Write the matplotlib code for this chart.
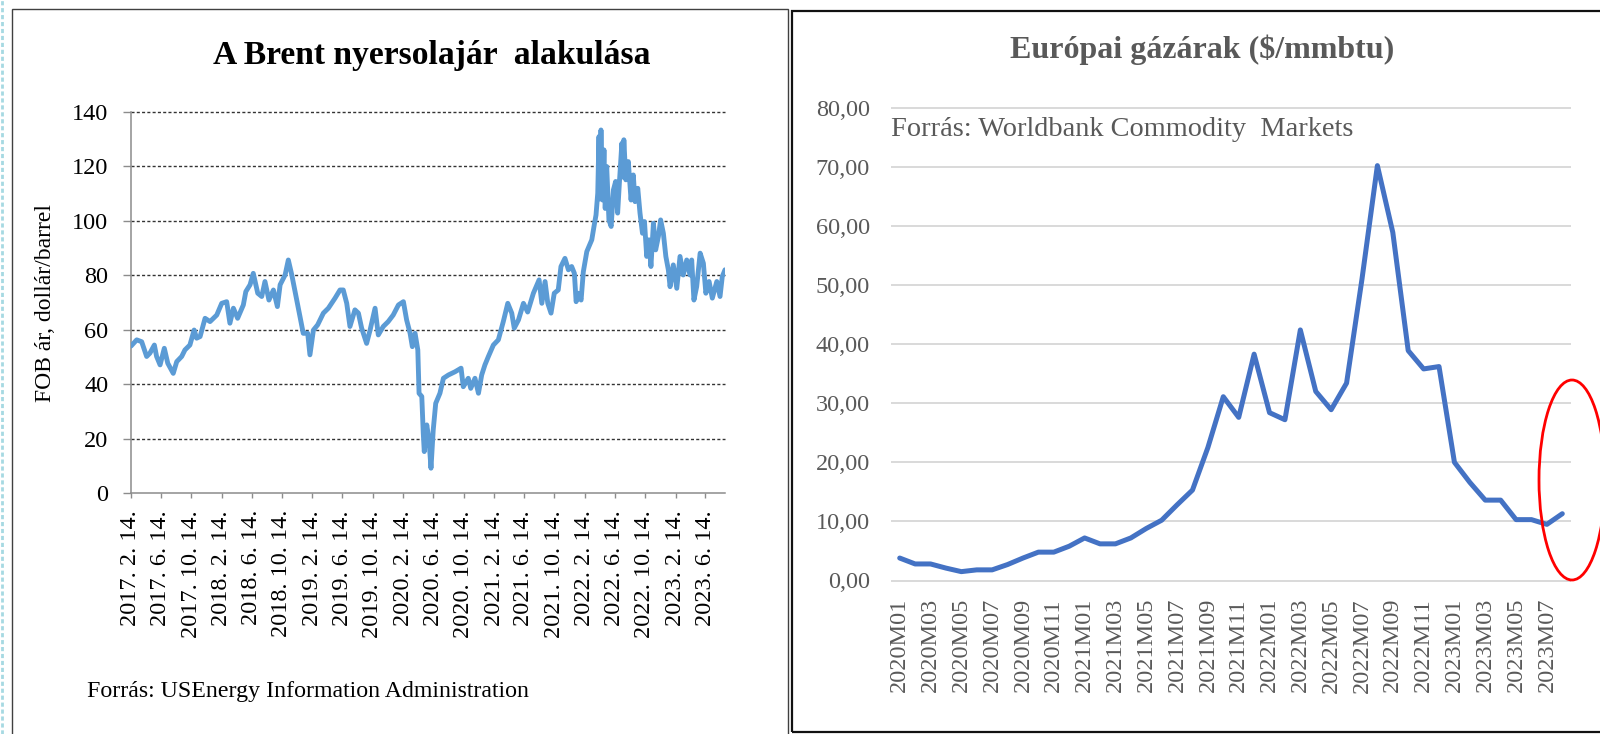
import matplotlib
matplotlib.use('Agg')
import matplotlib.pyplot as plt
from matplotlib.patches import Rectangle, Ellipse
from matplotlib.lines import Line2D
import pandas as pd

plt.rcParams['font.family'] = ['Liberation Serif', 'DejaVu Serif']

# ---------------- data: Brent (left) ----------------
brent_dates = [
    "2017-02-14", "2017-03-09", "2017-03-29", "2017-04-18", "2017-05-01", "2017-05-19", "2017-05-28",
    "2017-06-11", "2017-06-28", "2017-07-12", "2017-08-03", "2017-08-17", "2017-09-06", "2017-09-19",
    "2017-10-09", "2017-10-26", "2017-11-05", "2017-11-19", "2017-12-09", "2017-12-29", "2018-01-25",
    "2018-02-14", "2018-03-06", "2018-03-19", "2018-04-02", "2018-04-19", "2018-05-12", "2018-05-22",
    "2018-06-08", "2018-06-21", "2018-07-09", "2018-07-25", "2018-08-07", "2018-08-23", "2018-09-10",
    "2018-09-26", "2018-10-07", "2018-10-27", "2018-11-09", "2018-11-23", "2018-12-13", "2018-12-26",
    "2019-01-08", "2019-01-26", "2019-02-04", "2019-02-18", "2019-03-07", "2019-03-30", "2019-04-19",
    "2019-05-16", "2019-06-05", "2019-06-18", "2019-07-02", "2019-07-15", "2019-08-04", "2019-08-18",
    "2019-08-31", "2019-09-20", "2019-10-04", "2019-10-24", "2019-11-06", "2019-11-26", "2019-12-16",
    "2020-01-05", "2020-01-26", "2020-02-15", "2020-02-28", "2020-03-13", "2020-03-22", "2020-04-02",
    "2020-04-13", "2020-04-18", "2020-04-29", "2020-05-05", "2020-05-09", "2020-05-19", "2020-05-28",
    "2020-06-05", "2020-06-14", "2020-06-24", "2020-07-11", "2020-07-25", "2020-08-14", "2020-09-10",
    "2020-10-04", "2020-10-13", "2020-11-02", "2020-11-12", "2020-11-29", "2020-12-13", "2020-12-26",
    "2021-01-08", "2021-01-22", "2021-02-11", "2021-03-03", "2021-03-23", "2021-04-10", "2021-04-26",
    "2021-05-06", "2021-05-23", "2021-06-12", "2021-06-29", "2021-07-22", "2021-08-14", "2021-08-25",
    "2021-09-07", "2021-09-18", "2021-10-01", "2021-10-14", "2021-10-30", "2021-11-10", "2021-11-26",
    "2021-12-10", "2021-12-23", "2022-01-03", "2022-01-10", "2022-01-19", "2022-01-30", "2022-02-08",
    "2022-02-22", "2022-03-14", "2022-03-24", "2022-03-31", "2022-04-07", "2022-04-12", "2022-04-15",
    "2022-04-20", "2022-04-26", "2022-05-02", "2022-05-07", "2022-05-13", "2022-05-22", "2022-05-31",
    "2022-06-09", "2022-06-18", "2022-06-26", "2022-07-03", "2022-07-13", "2022-07-17", "2022-07-21",
    "2022-07-29", "2022-08-08", "2022-08-19", "2022-08-28", "2022-09-04", "2022-09-15", "2022-09-24",
    "2022-10-04", "2022-10-12", "2022-10-21", "2022-10-30", "2022-11-07", "2022-11-17", "2022-11-26",
    "2022-12-07", "2022-12-16", "2022-12-27", "2023-01-06", "2023-01-16", "2023-01-23", "2023-02-05",
    "2023-02-19", "2023-03-04", "2023-03-17", "2023-03-31", "2023-04-13", "2023-04-20", "2023-04-29",
    "2023-05-10", "2023-05-24", "2023-06-06", "2023-06-16", "2023-06-29", "2023-07-12", "2023-07-30",
    "2023-08-12", "2023-08-21", "2023-09-01",
]
brent_prices = [
    54.0, 56.3, 55.6, 50.2, 51.4, 54.4, 50.2,
    47.1, 53.2, 47.7, 44.0, 48.3, 50.2, 52.6,
    54.4, 59.9, 56.9, 57.5, 64.2, 63.0, 65.4,
    69.7, 70.3, 62.4, 67.9, 64.2, 69.1, 74.0,
    76.5, 80.7, 73.4, 72.2, 77.7, 70.9, 74.6,
    68.5, 76.5, 80.1, 85.6, 80.1, 70.9, 64.8,
    58.7, 58.7, 50.8, 59.9, 61.8, 66.1, 67.9,
    71.6, 74.6, 74.6, 69.7, 61.2, 67.3, 66.1,
    60.6, 55.0, 59.9, 67.9, 58.1, 61.2, 63.0,
    65.4, 69.1, 70.3, 63.6, 58.7, 53.8, 58.7,
    52.6, 36.7, 35.5, 22.0, 15.3, 25.1, 19.6,
    9.2, 23.2, 33.0, 36.7, 42.2, 43.4, 44.6,
    45.9, 39.1, 42.2, 38.5, 42.2, 36.7, 43.4,
    47.1, 50.2, 54.4, 56.3, 63.0, 69.7, 66.1,
    60.6, 63.6, 69.7, 66.5, 73.4, 78.3, 69.7,
    77.7, 69.7, 66.1, 73.4, 74.6, 83.2, 86.2,
    82.0, 83.2, 80.7, 70.3, 73.4, 70.9, 81.3,
    88.7, 93.0, 98.5, 102.1, 110.1, 130.9, 108.0,
    133.3, 107.6, 126.0, 104.5, 119.9, 100.3, 97.9,
    111.3, 114.4, 102.8, 113.8, 128.4, 116.0, 129.7,
    115.0, 121.7, 107.6, 116.8, 107.0, 111.9, 102.8,
    95.4, 99.7, 86.9, 93.0, 83.2, 99.1, 89.3,
    94.2, 100.3, 95.4, 86.9, 82.0, 75.8, 83.8,
    75.2, 86.9, 80.1, 85.6, 80.1, 85.6, 70.9,
    75.8, 88.1, 84.4, 73.4, 77.7, 71.6, 77.7,
    72.2, 79.5, 82.0,
]
brent_tick_dates = [
    "2017-02-14", "2017-06-14", "2017-10-14", "2018-02-14", "2018-06-14", "2018-10-14",
    "2019-02-14", "2019-06-14", "2019-10-14", "2020-02-14", "2020-06-14", "2020-10-14",
    "2021-02-14", "2021-06-14", "2021-10-14", "2022-02-14", "2022-06-14", "2022-10-14",
    "2023-02-14", "2023-06-14",
]
brent_tick_labels = [
    "2017. 2. 14.", "2017. 6. 14.", "2017. 10. 14.", "2018. 2. 14.", "2018. 6. 14.", "2018. 10. 14.",
    "2019. 2. 14.", "2019. 6. 14.", "2019. 10. 14.", "2020. 2. 14.", "2020. 6. 14.", "2020. 10. 14.",
    "2021. 2. 14.", "2021. 6. 14.", "2021. 10. 14.", "2022. 2. 14.", "2022. 6. 14.", "2022. 10. 14.",
    "2023. 2. 14.", "2023. 6. 14.",
]
brent_yticks = [0, 20, 40, 60, 80, 100, 120, 140]

# ---------------- data: European gas (right) ----------------
gas_months = [
    "2020M01", "2020M02", "2020M03", "2020M04", "2020M05", "2020M06", "2020M07", "2020M08",
    "2020M09", "2020M10", "2020M11", "2020M12",
    "2021M01", "2021M02", "2021M03", "2021M04", "2021M05", "2021M06", "2021M07", "2021M08",
    "2021M09", "2021M10", "2021M11", "2021M12",
    "2022M01", "2022M02", "2022M03", "2022M04", "2022M05", "2022M06", "2022M07", "2022M08",
    "2022M09", "2022M10", "2022M11", "2022M12",
    "2023M01", "2023M02", "2023M03", "2023M04", "2023M05", "2023M06", "2023M07", "2023M08",
]
gas_prices = [
    3.8, 2.8, 2.8, 2.1, 1.5, 1.8, 1.8, 2.7, 3.8, 4.8, 4.8, 5.8,
    7.2, 6.2, 6.2, 7.2, 8.8, 10.2, 12.8, 15.3, 22.5, 31.1, 27.6, 38.3,
    28.4, 27.2, 42.4, 32.0, 28.9, 33.4, 51.0, 70.2, 58.9, 38.9, 35.8, 36.2,
    20.0, 16.6, 13.6, 13.6, 10.3, 10.3, 9.5, 11.3,
]
gas_yticks = [0, 10, 20, 30, 40, 50, 60, 70, 80]

W, H = 1600, 734
fig = plt.figure(figsize=(16, 7.34), dpi=100)
fig.patch.set_facecolor('white')


def fx(px):
    return px / W


def fy(py):
    return 1 - py / H


# ---------------- left chart ----------------
L0, L1, T0, B0 = 131, 725, 111.7, 493.3
axL = fig.add_axes([fx(L0), fy(B0), (L1 - L0) / W, (B0 - T0) / H])
d = pd.to_datetime(brent_dates)
axL.plot(d, brent_prices, color='#5B9BD5', lw=3.5, solid_joinstyle='round',
         solid_capstyle='round', zorder=3)
axL.set_ylim(0, 140)
axL.set_xlim(d[0], d[-1])
axL.set_yticks(brent_yticks)
axL.set_yticklabels([str(v) for v in brent_yticks])
for v in brent_yticks[1:]:
    axL.axhline(v, color='#333333', lw=1.0, linestyle=(0, (2.2, 1.6)), clip_on=False, zorder=1)
axL.set_xticks(pd.to_datetime(brent_tick_dates))
axL.set_xticklabels(brent_tick_labels, rotation=90, ha='center', va='top')
for s in ['top', 'right']:
    axL.spines[s].set_visible(False)
for s in ['left', 'bottom']:
    axL.spines[s].set_color('#8c8c8c')
    axL.spines[s].set_linewidth(1.1)
axL.tick_params(axis='y', length=6, width=1.0, color='#8c8c8c', pad=10.4, labelsize=17.5,
                labelcolor='black')
axL.tick_params(axis='x', length=3.6, width=1.0, color='#8c8c8c', pad=8.5, labelsize=17.5,
                labelcolor='black')

fig.text(fx(432), fy(64), "A Brent nyersolajár  alakulása", ha='center', va='baseline',
         fontsize=24.2, fontweight='bold', color='black')
fig.text(fx(46), fy(303), "FOB ár, dollár/barrel", rotation=90, ha='center', va='center',
         fontsize=17, color='black')
fig.text(fx(86.7), fy(697), "Forrás: USEnergy Information Administration", ha='left',
         va='baseline', fontsize=17.2, color='black')

# ---------------- right chart ----------------
R0, R1, RT, RB = 892, 1570, 107.7, 580.5
axR = fig.add_axes([fx(R0), fy(RB), (R1 - R0) / W, (RB - RT) / H])
xs = list(range(len(gas_prices)))
axR.plot(xs, gas_prices, color='#4472C4', lw=3.6, solid_joinstyle='round',
         solid_capstyle='round', zorder=3)
axR.set_xlim(-0.5, len(gas_prices) - 0.5)
axR.set_ylim(0, 80)
for v in gas_yticks:
    axR.axhline(v, color='#d9d9d9', lw=1.4, clip_on=False, zorder=1)
axR.set_yticks(gas_yticks)
axR.set_yticklabels([f"{v:.2f}".replace('.', ',') for v in gas_yticks])
axR.set_xticks(xs[::2])
axR.set_xticklabels(gas_months[::2], rotation=90, ha='center', va='top')
for s in axR.spines.values():
    s.set_visible(False)
axR.tick_params(axis='y', length=0, pad=15.8, labelsize=17.5, labelcolor='#595959')
axR.tick_params(axis='x', length=0, pad=12.6, labelsize=17.5, labelcolor='#595959')

fig.text(fx(1202), fy(58.4), "Európai gázárak ($/mmbtu)", ha='center', va='baseline',
         fontsize=23, fontweight='bold', color='#595959')
fig.text(fx(891), fy(136), "Forrás: Worldbank Commodity  Markets", ha='left', va='baseline',
         fontsize=20.4, color='#595959')

# red highlight ellipse
fig.add_artist(Ellipse((fx(1572), fy(480)), width=66 / W, height=200 / H,
                       transform=fig.transFigure, fill=False, edgecolor='#ff0000', lw=2.0))

# ---------------- frames ----------------
fig.add_artist(Rectangle((fx(11.7), fy(745)), (788.3 - 11.7) / W, (745 - 9) / H,
                         transform=fig.transFigure, fill=False, edgecolor='#404040', lw=1.0))
fig.add_artist(Rectangle((fx(791.5), fy(732.3)), (1620 - 791.5) / W, (732.3 - 11) / H,
                         transform=fig.transFigure, fill=False, edgecolor='#111111', lw=1.6))
fig.add_artist(Line2D([fx(1.5), fx(1.5)], [0, 1], transform=fig.transFigure,
                      color='#a6d9e2', lw=2.0, dashes=(1.5, 1.0)))

fig.savefig('out.png', dpi=100, facecolor='white')
